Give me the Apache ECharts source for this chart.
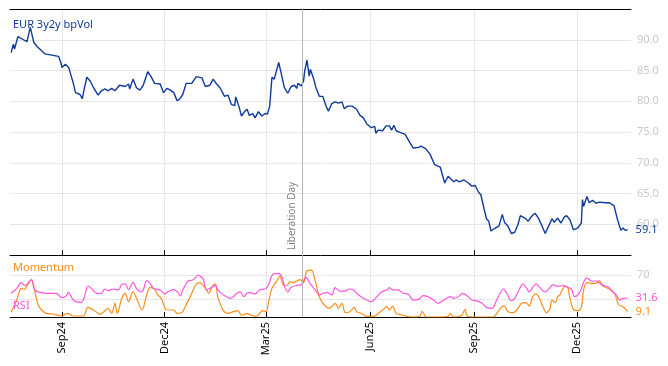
<!DOCTYPE html>
<html>
<head>
<meta charset="utf-8">
<script src="https://cdn.jsdelivr.net/npm/echarts@6/dist/echarts.min.js"></script>
<style>html,body{margin:0;padding:0;background:#fff}#c{width:668px;height:366px}</style>
</head>
<body>
<div id="c"></div>
<script>
// ---------- DATA ----------
const volDates = ['2024-07-18','2024-07-20','2024-07-21','2024-07-24','2024-07-29','2024-08-01','2024-08-02','2024-08-04','2024-08-07','2024-08-10','2024-08-14','2024-08-17','2024-08-23','2024-08-29','2024-08-31','2024-09-01','2024-09-04','2024-09-05','2024-09-07','2024-09-10','2024-09-11','2024-09-13','2024-09-17','2024-09-19','2024-09-21','2024-09-23','2024-09-26','2024-09-29','2024-09-30','2024-10-03','2024-10-06','2024-10-09','2024-10-12','2024-10-15','2024-10-18','2024-10-22','2024-10-27','2024-10-30','2024-10-31','2024-11-03','2024-11-06','2024-11-09','2024-11-12','2024-11-16','2024-11-19','2024-11-22','2024-11-27','2024-11-30','2024-12-03','2024-12-06','2024-12-09','2024-12-12','2024-12-14','2024-12-17','2024-12-20','2024-12-25','2024-12-29','2025-01-03','2025-01-06','2025-01-10','2025-01-13','2025-01-16','2025-01-19','2025-01-20','2025-01-23','2025-01-26','2025-01-29','2025-02-01','2025-02-02','2025-02-05','2025-02-07','2025-02-10','2025-02-12','2025-02-14','2025-02-17','2025-02-19','2025-02-22','2025-02-25','2025-02-28','2025-03-02','2025-03-04','2025-03-06','2025-03-08','2025-03-12','2025-03-14','2025-03-17','2025-03-20','2025-03-23','2025-03-26','2025-03-28','2025-03-29','2025-04-01','2025-04-03','2025-04-04','2025-04-06','2025-04-08','2025-04-09','2025-04-12','2025-04-14','2025-04-17','2025-04-20','2025-04-23','2025-04-25','2025-04-28','2025-05-01','2025-05-04','2025-05-07','2025-05-09','2025-05-12','2025-05-16','2025-05-20','2025-05-23','2025-05-26','2025-05-29','2025-06-02','2025-06-05','2025-06-06','2025-06-08','2025-06-12','2025-06-15','2025-06-18','2025-06-20','2025-06-22','2025-06-24','2025-06-28','2025-07-02','2025-07-06','2025-07-09','2025-07-14','2025-07-16','2025-07-20','2025-07-24','2025-07-25','2025-07-28','2025-08-02','2025-08-06','2025-08-09','2025-08-14','2025-08-16','2025-08-19','2025-08-23','2025-08-27','2025-08-30','2025-09-02','2025-09-05','2025-09-07','2025-09-10','2025-09-12','2025-09-14','2025-09-16','2025-09-19','2025-09-23','2025-09-26','2025-09-28','2025-10-01','2025-10-04','2025-10-07','2025-10-10','2025-10-12','2025-10-16','2025-10-19','2025-10-20','2025-10-22','2025-10-25','2025-10-28','2025-10-31','2025-11-03','2025-11-06','2025-11-09','2025-11-11','2025-11-14','2025-11-17','2025-11-20','2025-11-22','2025-11-25','2025-11-28','2025-12-02','2025-12-05','2025-12-06','2025-12-07','2025-12-10','2025-12-12','2025-12-15','2025-12-18','2025-12-21','2025-12-26','2025-12-30','2026-01-03','2026-01-06','2026-01-09','2026-01-11','2026-01-13','2026-01-15'];
const volValues = [87.9,89.3,88.5,90.5,90.0,89.7,90.0,92.0,89.6,88.9,88.2,87.7,87.5,87.3,86.3,85.5,86.0,86.3,85.5,83.6,83.0,81.4,81.1,80.4,82.2,83.9,83.3,82.2,82.5,81.0,81.7,82.0,81.7,82.1,81.7,82.6,82.4,82.8,82.0,83.6,82.2,81.8,82.6,84.8,84.0,82.9,82.8,81.4,82.1,81.8,81.4,80.1,80.3,81.1,82.9,82.9,84.0,83.8,82.4,82.6,83.6,82.8,82.2,82.0,80.8,81.0,79.5,79.3,80.7,79.0,77.6,78.4,78.7,77.7,78.0,77.3,78.3,77.6,78.0,77.9,79.2,83.9,83.6,86.3,84.7,82.2,81.3,82.4,82.6,82.1,82.9,82.5,83.3,84.9,86.7,84.1,85.2,83.6,82.2,80.8,80.8,79.2,78.4,79.6,79.9,79.7,79.9,78.8,79.2,79.2,78.7,77.7,77.3,76.3,75.7,75.9,74.8,75.3,75.2,76.0,76.0,75.3,76.1,75.2,74.9,74.6,73.3,72.4,72.5,72.7,72.3,71.4,71.6,69.7,69.3,66.7,67.8,66.9,67.2,66.9,67.2,66.7,66.2,66.3,65.2,64.8,62.4,60.9,60.5,58.9,59.3,59.7,61.6,60.3,59.7,58.5,58.7,60.0,61.4,61.0,60.5,60.2,61.3,61.8,61.0,59.8,58.5,59.7,60.9,60.3,61.0,60.2,61.2,61.4,60.7,59.1,59.4,60.2,64.0,62.9,64.5,63.5,63.9,63.4,63.6,63.5,63.5,63.0,60.8,59.0,59.4,59.0,59.1];

const rsiDates = ['2024-07-18','2024-07-23','2024-07-27','2024-07-30','2024-08-03','2024-08-05','2024-08-08','2024-08-13','2024-08-21','2024-08-27','2024-09-01','2024-09-04','2024-09-07','2024-09-10','2024-09-13','2024-09-18','2024-09-21','2024-09-24','2024-09-27','2024-10-02','2024-10-06','2024-10-09','2024-10-12','2024-10-16','2024-10-21','2024-10-24','2024-10-27','2024-10-30','2024-11-03','2024-11-06','2024-11-10','2024-11-12','2024-11-15','2024-11-18','2024-11-21','2024-11-24','2024-11-27','2024-12-01','2024-12-04','2024-12-09','2024-12-12','2024-12-15','2024-12-17','2024-12-22','2024-12-26','2024-12-31','2025-01-01','2025-01-04','2025-01-07','2025-01-10','2025-01-15','2025-01-17','2025-01-22','2025-01-28','2025-01-31','2025-02-03','2025-02-06','2025-02-09','2025-02-12','2025-02-14','2025-02-19','2025-02-23','2025-03-01','2025-03-04','2025-03-07','2025-03-12','2025-03-15','2025-03-17','2025-03-20','2025-03-23','2025-03-28','2025-04-01','2025-04-05','2025-04-09','2025-04-13','2025-04-17','2025-04-20','2025-04-24','2025-04-28','2025-05-01','2025-05-05','2025-05-10','2025-05-13','2025-05-17','2025-05-20','2025-05-24','2025-05-29','2025-06-02','2025-06-07','2025-06-11','2025-06-16','2025-06-18','2025-06-21','2025-06-26','2025-06-30','2025-07-05','2025-07-09','2025-07-14','2025-07-18','2025-07-22','2025-07-27','2025-07-31','2025-08-06','2025-08-11','2025-08-14','2025-08-18','2025-08-22','2025-08-25','2025-08-30','2025-09-03','2025-09-08','2025-09-12','2025-09-17','2025-09-21','2025-09-24','2025-09-27','2025-09-30','2025-10-04','2025-10-07','2025-10-12','2025-10-14','2025-10-17','2025-10-20','2025-10-23','2025-10-26','2025-10-29','2025-11-03','2025-11-07','2025-11-10','2025-11-14','2025-11-19','2025-11-23','2025-11-26','2025-11-29','2025-12-02','2025-12-05','2025-12-07','2025-12-10','2025-12-14','2025-12-18','2025-12-21','2025-12-24','2025-12-29','2026-01-02','2026-01-05','2026-01-08','2026-01-11','2026-01-15'];
const rsiValues = [39.4,47.6,57.6,51.9,58.7,61.5,44.9,40.5,39.4,39.4,32.2,33.8,41.0,31.0,25.5,24.4,33.8,51.5,47.6,39.4,39.4,46.5,43.7,46.5,44.9,54.3,54.9,45.4,57.6,47.6,41.6,44.9,60.3,55.9,47.6,45.9,44.9,38.3,42.2,45.4,42.2,34.9,44.9,60.3,61.5,69.8,68.0,63.7,44.9,47.6,52.6,44.9,36.6,31.0,33.8,39.4,41.6,33.8,39.4,40.5,38.3,44.9,47.6,58.7,71.4,72.5,65.9,51.5,41.6,49.3,52.6,53.7,65.9,54.9,45.7,36.6,39.4,40.5,36.6,48.7,43.1,43.1,46.5,45.4,39.4,33.8,28.2,25.5,33.8,41.6,45.4,48.7,44.9,44.9,39.4,37.7,28.2,29.3,35.4,33.8,28.2,22.7,29.3,33.8,31.0,33.8,39.4,36.6,28.2,27.1,22.7,16.0,14.4,28.2,39.4,46.5,39.4,27.1,31.0,49.3,54.9,49.3,41.6,49.3,54.9,49.3,41.6,48.7,53.7,51.0,52.0,48.7,47.0,33.8,36.6,46.5,57.6,65.0,59.8,59.8,56.5,52.6,49.9,41.6,36.6,28.2,31.0,31.6];

const momDates = ['2024-07-18','2024-07-23','2024-07-27','2024-07-30','2024-08-02','2024-08-05','2024-08-08','2024-08-11','2024-08-14','2024-08-18','2024-08-24','2024-09-01','2024-09-04','2024-09-07','2024-09-10','2024-09-20','2024-09-24','2024-09-29','2024-10-05','2024-10-09','2024-10-12','2024-10-15','2024-10-18','2024-10-20','2024-10-24','2024-10-27','2024-10-30','2024-11-03','2024-11-06','2024-11-11','2024-11-15','2024-11-18','2024-11-22','2024-11-25','2024-11-28','2024-12-02','2024-12-06','2024-12-09','2024-12-12','2024-12-16','2024-12-20','2024-12-25','2024-12-29','2025-01-01','2025-01-06','2025-01-09','2025-01-12','2025-01-15','2025-01-17','2025-01-22','2025-01-26','2025-01-31','2025-02-04','2025-02-07','2025-02-12','2025-02-16','2025-02-20','2025-02-23','2025-02-26','2025-03-01','2025-03-03','2025-03-06','2025-03-10','2025-03-13','2025-03-16','2025-03-19','2025-03-22','2025-03-25','2025-03-28','2025-03-31','2025-04-03','2025-04-06','2025-04-10','2025-04-13','2025-04-16','2025-04-19','2025-04-23','2025-04-26','2025-05-01','2025-05-04','2025-05-07','2025-05-10','2025-05-14','2025-05-18','2025-05-20','2025-05-24','2025-05-29','2025-06-04','2025-06-08','2025-06-12','2025-06-16','2025-06-18','2025-06-21','2025-06-24','2025-06-29','2025-07-03','2025-07-09','2025-07-15','2025-07-17','2025-07-21','2025-08-02','2025-08-09','2025-08-11','2025-08-14','2025-08-21','2025-08-24','2025-08-26','2025-08-31','2025-09-18','2025-09-21','2025-09-25','2025-09-28','2025-10-01','2025-10-06','2025-10-10','2025-10-13','2025-10-17','2025-10-20','2025-10-23','2025-10-26','2025-10-29','2025-11-01','2025-11-04','2025-11-07','2025-11-09','2025-11-12','2025-11-14','2025-11-16','2025-11-18','2025-11-21','2025-11-23','2025-11-25','2025-11-28','2025-12-02','2025-12-05','2025-12-07','2025-12-10','2025-12-14','2025-12-18','2025-12-21','2025-12-24','2025-12-30','2026-01-04','2026-01-07','2026-01-11','2026-01-15'];
const momValues = [8.0,28.2,47.6,46.0,54.9,62.6,42.2,19.9,11.6,6.1,5.0,1.7,5.0,6.1,1.7,1.7,16.0,11.6,4.4,10.5,14.4,6.1,22.6,6.1,31.0,39.4,25.5,42.2,31.0,11.6,36.6,49.3,46.0,36.6,31.0,12.7,11.6,11.6,6.1,7.2,19.9,39.4,54.9,57.0,47.6,39.4,50.4,54.9,33.8,10.5,6.1,8.8,10.5,2.8,5.5,2.8,1.1,5.5,10.5,8.8,24.4,47.6,58.7,68.1,53.2,51.9,58.7,57.0,59.8,62.0,57.0,76.9,78.0,62.6,39.4,25.5,17.1,14.4,22.7,14.4,22.7,7.2,8.8,16.0,8.8,6.1,1.1,1.1,5.5,11.6,17.1,11.6,18.2,6.1,3.3,1.1,0,1.1,9.4,0,0,1.1,6.1,0,2.8,12.7,1.1,0,0,5.5,16.0,18.2,8.8,7.2,14.4,22.7,23.8,18.2,33.8,38.3,31.0,17.1,7.2,12.7,28.2,23.8,33.8,36.6,44.9,51.5,49.3,31.0,12.7,10.5,16.0,44.9,57.0,56.0,56.0,60.3,51.5,46.0,36.6,19.9,17.1,9.1];

const tickDates = ['2024-09-01','2024-12-01','2025-03-01','2025-06-01','2025-09-01','2025-12-01'];
const tickLabels = ['Sep24','Dec24','Mar25','Jun25','Sep25','Dec25'];
const eventDate = '2025-04-02';
const eventLabel = 'Liberation Day';
const xMin = '2024-07-17', xMax = '2026-01-18';
const volName = 'EUR 3y2y bpVol', momName = 'Momentum', rsiName = 'RSI';
const lowerLevels = [30, 70];

// ---------- CHART ----------
const FONT = 'Noto Sans';
const C_BLUE = '#0f3a9c', C_ORANGE = '#ff8c1a', C_PINK = '#ff55dd';
const ts = s => { const p = s.split('-').map(Number); return Date.UTC(p[0], p[1] - 1, p[2]); };
const zip = (d, v) => d.map((x, i) => [ts(x), v[i]]);
const tickTs = tickDates.map(ts);
const tickFmt = v => { const i = tickTs.indexOf(v); return i >= 0 ? tickLabels[i] : ''; };

const chart = echarts.init(document.getElementById('c'), null, {renderer: 'canvas'});
const baseX = () => ({
  type: 'value', min: ts(xMin), max: ts(xMax),
  axisLine: {show: true, onZero: false, lineStyle: {color: '#000', width: 1}},
  axisTick: {show: true, inside: true, length: 5, customValues: tickTs, lineStyle: {color: '#000'}},
  splitLine: {show: true, lineStyle: {color: '#e6e6e6', width: 1}},
  axisLabel: {show: false, customValues: tickTs},
  axisPointer: {show: false}
});
const xTopBottom = Object.assign(baseX(), {gridIndex: 0, position: 'bottom'});
const xTopTop = Object.assign(baseX(), {gridIndex: 0, position: 'top', axisTick: {show: false}, splitLine: {show: false}});
const xLow = Object.assign(baseX(), {gridIndex: 1, position: 'bottom'});
xLow.axisLabel = {show: true, customValues: tickTs, formatter: tickFmt, rotate: 90, color: '#000', fontSize: 11, margin: 5, fontFamily: FONT};

chart.setOption({
  animation: false,
  textStyle: {fontFamily: FONT},
  title: [
    {text: volName, left: 13, top: 19, padding: 0, textStyle: {fontSize: 11, fontWeight: 'normal', color: C_BLUE, fontFamily: FONT}},
    {text: momName, left: 13, top: 262, padding: 0, textStyle: {fontSize: 11, fontWeight: 'normal', color: C_ORANGE, fontFamily: FONT}},
    {text: rsiName, left: 13, top: 300, padding: 0, textStyle: {fontSize: 11, fontWeight: 'normal', color: C_PINK, fontFamily: FONT}}
  ],
  grid: [
    {left: 10, right: 37, top: 9, height: 246},
    {left: 10, right: 37, top: 255, height: 62}
  ],
  xAxis: [xTopBottom, xTopTop, xLow],
  yAxis: [
    {gridIndex: 0, type: 'value', position: 'right', min: 55, max: 95, interval: 5,
     axisLine: {show: false}, axisTick: {show: false},
     axisLabel: {color: '#c8c8c8', fontSize: 11, margin: 6, showMinLabel: false, showMaxLabel: false, formatter: v => v.toFixed(1), fontFamily: FONT},
     splitLine: {show: true, lineStyle: {color: '#e6e6e6'}}},
    {gridIndex: 1, type: 'value', position: 'right', min: 0, max: 103,
     axisLine: {show: false},
     axisTick: {show: false, customValues: lowerLevels},
     axisLabel: {color: '#c8c8c8', fontSize: 11, margin: 6, customValues: [lowerLevels[1]], fontFamily: FONT},
     splitLine: {show: true, lineStyle: {color: '#e6e6e6'}}}
  ],
  series: [
    {name: volName, type: 'line', xAxisIndex: 0, yAxisIndex: 0, data: zip(volDates, volValues),
     showSymbol: false, symbol: 'none', lineStyle: {color: C_BLUE, width: 1.4}, itemStyle: {color: C_BLUE},
     endLabel: {show: true, formatter: p => p.value[1].toFixed(1), color: C_BLUE, fontSize: 11, distance: 8, fontFamily: FONT},
     markLine: {silent: true, symbol: 'none', animation: false,
       lineStyle: {color: '#b4b4b4', width: 1, type: 'solid'},
       label: {show: true, formatter: eventLabel, position: 'insideStartTop', color: '#808080', fontSize: 10, fontFamily: FONT},
       data: [{xAxis: ts(eventDate)}]}},
    {name: momName, type: 'line', xAxisIndex: 2, yAxisIndex: 1, data: zip(momDates, momValues),
     showSymbol: false, symbol: 'none', smooth: 0.3, lineStyle: {color: C_ORANGE, width: 1.2}, itemStyle: {color: C_ORANGE},
     endLabel: {show: true, formatter: p => p.value[1].toFixed(1), color: C_ORANGE, fontSize: 11, distance: 8, fontFamily: FONT}},
    {name: rsiName, type: 'line', xAxisIndex: 2, yAxisIndex: 1, data: zip(rsiDates, rsiValues),
     showSymbol: false, symbol: 'none', smooth: 0.3, lineStyle: {color: C_PINK, width: 1.2}, itemStyle: {color: C_PINK},
     endLabel: {show: true, formatter: p => p.value[1].toFixed(1), color: C_PINK, fontSize: 11, distance: 8, fontFamily: FONT},
     markLine: {silent: true, symbol: 'none', animation: false,
       lineStyle: {color: '#b4b4b4', width: 1, type: 'solid'}, label: {show: false},
       data: [{xAxis: ts(eventDate)}]}}
  ]
});
</script>
</body>
</html>
